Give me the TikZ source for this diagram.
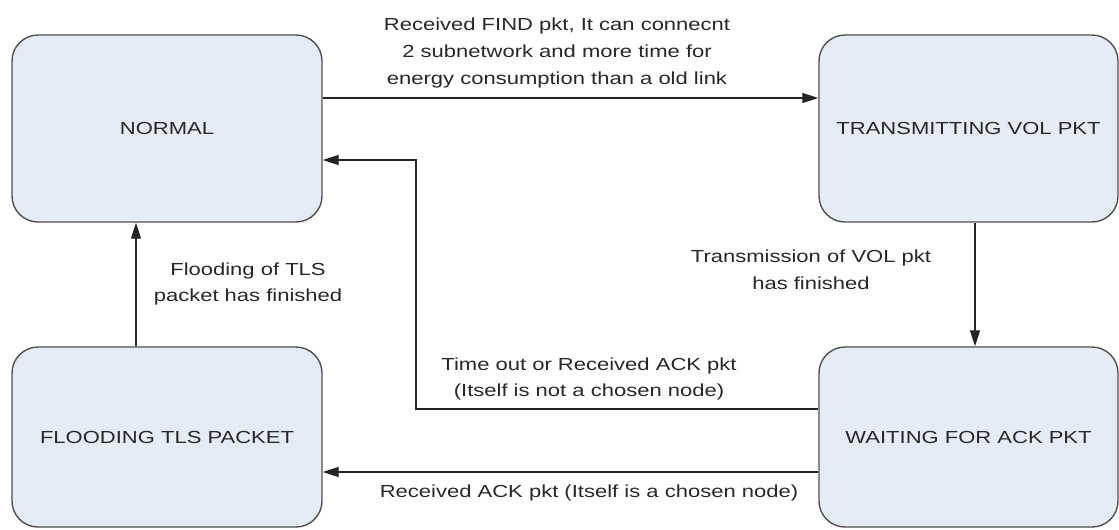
\documentclass[tikz,border=0pt]{standalone}
\usepackage{fontspec}
\newfontfamily\diagfont{Liberation Sans}[FakeStretch=1.26]
\usetikzlibrary{arrows.meta}
\newdimen\upx \upx=0.75pt
\definecolor{boxfill}{RGB}{230,236,246}
\definecolor{boxedge}{RGB}{80,80,80}
\definecolor{inkline}{RGB}{35,35,35}
\definecolor{inktext}{RGB}{40,40,40}
\begin{document}
\begin{tikzpicture}[x=0.75pt,y=-0.75pt,
  state/.style={draw=boxedge, line width=1.4\upx, fill=boxfill,
    rounded corners=26\upx, inner sep=0pt,
    font=\diagfont\fontsize{13.1}{19.9}\selectfont, text=inktext},
  trans/.style={draw=inkline, line width=1pt,
    -{Triangle[length=12pt,width=7.5pt]}},
  lbl/.style={font=\diagfont\fontsize{13.1}{19.9}\selectfont,
    text=inktext, align=center, inner sep=0pt}]
\useasboundingbox[fill=white] (0,0) rectangle (1119,529);

% states
\node[state, minimum width=310\upx, minimum height=187\upx] (N) at (167,128.5) {NORMAL};
\node[state, minimum width=299\upx, minimum height=187\upx] (T) at (968.5,128.5) {TRANSMITTING VOL PKT};
\node[state, minimum width=310\upx, minimum height=180\upx] (F) at (167,437) {FLOODING TLS PACKET};
\node[state, minimum width=299\upx, minimum height=180\upx] (W) at (968.5,437) {WAITING FOR ACK PKT};

% routing helpers
\coordinate (ytop) at (0,98);
\coordinate (xdown) at (975,0);
\coordinate (bend) at (416,160);
\coordinate (yret) at (0,409);
\coordinate (ybot) at (0,472);
\coordinate (xup) at (136,0);

% transitions
\draw[trans] (N.east |- ytop) -- (T.west |- ytop);
\draw[trans] (T.south -| xdown) -- (W.north -| xdown);
\draw[trans] (W.west |- yret) -| (bend) -- (N.east |- bend);
\draw[trans] (W.west |- ybot) -- (F.east |- ybot);
\draw[trans] (F.north -| xup) -- (N.south -| xup);

% transition labels
\node[lbl] (l1) at (557,53) {Received FIND pkt, It can connecnt\\2 subnetwork and more time for\\energy consumption than a old link};
\node[lbl] (l2) at (811,270) {Transmission of VOL pkt\\has finished};
\node[lbl] (l3) at (589,379) {Time out or Received ACK pkt\\(Itself is not a chosen node)};
\node[lbl] (l4) at (589,493) {Received ACK pkt (Itself is a chosen node)};
\node[lbl] (l5) at (248,284) {Flooding of TLS\\packet has finished};
\end{tikzpicture}
\end{document}
